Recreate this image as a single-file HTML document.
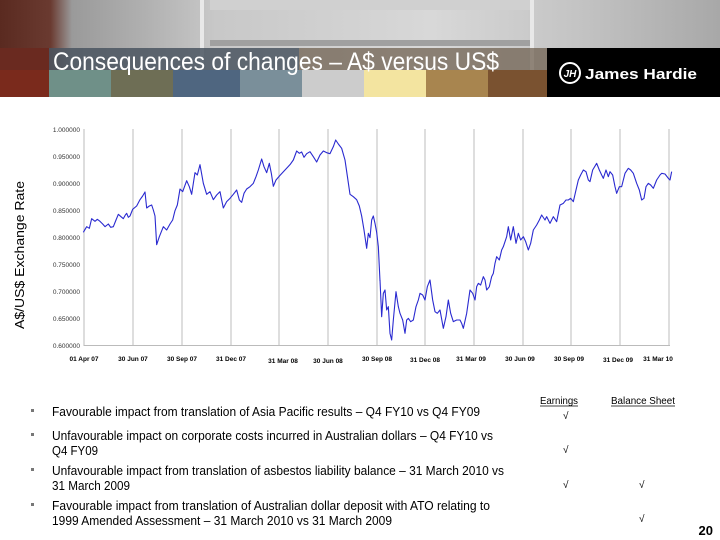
<!DOCTYPE html>
<html><head><meta charset="utf-8"><style>
html,body{margin:0;padding:0;background:#fff;}
body{width:720px;height:540px;position:relative;overflow:hidden;font-family:"Liberation Sans",Arial,sans-serif;}
</style></head><body>
<svg width="720" height="540" viewBox="0 0 720 540" xmlns="http://www.w3.org/2000/svg" style="position:absolute;left:0;top:0">
<defs>
<linearGradient id="ph" x1="0" x2="1" y1="0" y2="0">
<stop offset="0" stop-color="#5a2a20"/><stop offset="0.07" stop-color="#6a3a30"/>
<stop offset="0.1" stop-color="#9a9a9a"/><stop offset="0.2" stop-color="#b0b0b0"/>
<stop offset="0.3" stop-color="#c8c8c8"/><stop offset="0.6" stop-color="#d8d8d8"/>
<stop offset="0.8" stop-color="#c4c4c4"/><stop offset="1" stop-color="#a8a8a8"/>
</linearGradient>
</defs>
<rect x="0" y="0" width="720" height="70" fill="url(#ph)"/>
<rect x="210" y="0" width="320" height="10" fill="#d0d0d0"/>
<rect x="210" y="40" width="320" height="6" fill="#a0a0a0"/>
<rect x="200" y="0" width="4" height="70" fill="#e8e8e8"/>
<rect x="530" y="0" width="4" height="70" fill="#e8e8e8"/>
<rect x="0" y="70" width="49" height="27" fill="#7a2a1c"/>
<rect x="49" y="70" width="62" height="27" fill="#6f9088"/>
<rect x="111" y="70" width="62" height="27" fill="#6e6e55"/>
<rect x="173" y="70" width="67" height="27" fill="#4f6680"/>
<rect x="240" y="70" width="62" height="27" fill="#7a8f9a"/>
<rect x="302" y="70" width="62" height="27" fill="#cccccc"/>
<rect x="364" y="70" width="62" height="27" fill="#f3e4a0"/>
<rect x="426" y="70" width="62" height="27" fill="#a8854f"/>
<rect x="488" y="70" width="59" height="27" fill="#7a5230"/>
<rect x="0" y="48" width="49" height="22" fill="#6a2a20"/>
<rect x="49" y="48" width="250" height="22" fill="#4a5560" opacity="0.85"/>
<rect x="299" y="48" width="248" height="22" fill="#6a5a48" opacity="0.7"/>
<rect x="547" y="48" width="173" height="49" fill="#000"/>
<text x="53" y="70" font-size="25" fill="#fff" textLength="446" lengthAdjust="spacingAndGlyphs">Consequences of changes – A$ versus US$</text>
<circle cx="570" cy="73" r="10" fill="none" stroke="#fff" stroke-width="2"/>
<text x="570" y="77" font-size="10" font-weight="bold" fill="#fff" text-anchor="middle" font-style="italic">JH</text>
<text x="585" y="79" font-size="15" font-weight="bold" fill="#fff" textLength="112" lengthAdjust="spacingAndGlyphs">James Hardie</text>

<text transform="translate(24,255) rotate(-90)" font-size="13" text-anchor="middle" fill="#000" textLength="148" lengthAdjust="spacingAndGlyphs">A$/US$ Exchange Rate</text>

<g stroke="#c8c8c8" stroke-width="1.2">
<line x1="133" y1="129" x2="133" y2="346"/><line x1="182" y1="129" x2="182" y2="346"/>
<line x1="231" y1="129" x2="231" y2="346"/><line x1="279" y1="129" x2="279" y2="346"/>
<line x1="328" y1="129" x2="328" y2="346"/><line x1="377" y1="129" x2="377" y2="346"/>
<line x1="425" y1="129" x2="425" y2="346"/><line x1="474" y1="129" x2="474" y2="346"/>
<line x1="523" y1="129" x2="523" y2="346"/><line x1="571" y1="129" x2="571" y2="346"/>
<line x1="620" y1="129" x2="620" y2="346"/><line x1="669" y1="129" x2="669" y2="346"/>
</g>
<g stroke="#bbb" stroke-width="1"><line x1="84" y1="129" x2="84" y2="346"/><line x1="84" y1="345.5" x2="670" y2="345.5"/></g>
<g font-size="6.5" fill="#333" text-anchor="end">
<text x="80" y="132">1.000000</text><text x="80" y="159">0.950000</text>
<text x="80" y="186">0.900000</text><text x="80" y="213">0.850000</text>
<text x="80" y="240">0.800000</text><text x="80" y="267">0.750000</text>
<text x="80" y="294">0.700000</text><text x="80" y="321">0.650000</text>
<text x="80" y="348">0.600000</text>
</g>
<g font-size="6.5" font-weight="bold" fill="#000" text-anchor="middle">
<text x="84" y="361">01 Apr 07</text><text x="133" y="361">30 Jun 07</text>
<text x="182" y="361">30 Sep 07</text><text x="231" y="361">31 Dec 07</text>
<text x="283" y="363">31 Mar 08</text><text x="328" y="363">30 Jun 08</text>
<text x="377" y="361">30 Sep 08</text><text x="425" y="362">31 Dec 08</text>
<text x="471" y="361">31 Mar 09</text><text x="520" y="361">30 Jun 09</text>
<text x="569" y="361">30 Sep 09</text><text x="618" y="362">31 Dec 09</text>
<text x="658" y="361">31 Mar 10</text>
</g>
<g transform="translate(40,120) scale(0.33333)">
<polyline fill="none" stroke="#2a2ad0" stroke-width="3.3" stroke-linejoin="round" points="130,337 140,320 148,325 155,296 165,304 172,298 180,304 188,312 195,320 205,312 212,322 220,320 228,300 235,283 243,290 250,296 256,285 260,280 265,292 270,288 278,268 290,258 300,239 308,228 315,216 320,264 328,258 335,255 340,270 345,288 350,374 358,350 370,320 380,330 390,312 398,300 405,272 412,255 420,207 428,215 440,182 448,200 455,223 460,190 465,158 472,165 480,134 490,190 500,223 510,215 520,239 530,225 540,215 545,240 550,264 560,245 570,235 580,223 590,210 598,240 605,247 612,220 620,207 630,200 640,190 648,170 655,150 665,117 672,140 680,158 688,130 694,160 700,199 708,180 720,166 735,150 750,134 760,120 770,93 778,100 785,96 792,112 800,101 810,95 820,110 830,126 840,105 850,93 860,98 870,101 880,80 887,60 895,72 905,85 915,120 930,223 940,230 950,239 958,258 965,288 972,330 980,385 985,340 990,353 995,300 1000,288 1005,310 1010,337 1015,380 1020,483"/>
</g>
<g transform="translate(360,120) scale(0.33333)">
<polyline fill="none" stroke="#2a2ad0" stroke-width="3.3" stroke-linejoin="round" points="60,480 65,590 70,520 75,510 80,570 85,560 90,640 95,660 100,600 108,515 115,560 120,580 128,600 135,640 140,600 145,595 152,605 160,600 168,560 175,540 180,520 188,525 195,540 202,500 210,480 218,540 225,575 232,580 240,570 250,625 258,590 265,540 272,580 280,605 290,600 300,600 305,610 310,625 320,580 330,510 338,520 345,540 350,500 355,490 362,495 370,470 375,480 380,510 388,500 395,470 400,460 405,430 410,410 418,420 425,390 430,380 440,350 445,320 452,360 460,320 468,370 475,340 482,360 490,350 497,365 505,390 512,370 520,330 530,315 538,300 545,285 555,300 560,290 570,310 580,290 590,305 600,255 610,250 618,240 625,240 632,235 640,245 648,210 655,180 662,165 670,150 678,155 685,180 690,185 698,150 710,130 718,150 725,165 730,175 738,150 745,170 750,155 758,165 765,200 770,220 778,200 785,200 795,160 805,145 812,150 820,160 830,190 838,210 845,240 852,235 858,200 865,190 872,195 880,205 890,180 900,165 905,160 915,162 925,175 930,180 935,155"/>
</g>

<g font-size="10" fill="#000">
<text x="540" y="404" textLength="38" lengthAdjust="spacingAndGlyphs">Earnings</text>
<line x1="540" y1="406" x2="578" y2="406" stroke="#000" stroke-width="0.7"/>
<text x="611" y="404" textLength="64" lengthAdjust="spacingAndGlyphs">Balance Sheet</text>
<line x1="611" y1="406" x2="675" y2="406" stroke="#000" stroke-width="0.7"/>
</g>
<g font-size="12.5" fill="#000">
<rect x="31" y="409" width="3" height="3" fill="#777"/>
<text x="52" y="416" textLength="428" lengthAdjust="spacingAndGlyphs">Favourable impact from translation of Asia Pacific results – Q4 FY10 vs Q4 FY09</text>
<rect x="31" y="433" width="3" height="3" fill="#777"/>
<text x="52" y="440" textLength="441" lengthAdjust="spacingAndGlyphs">Unfavourable impact on corporate costs incurred in Australian dollars – Q4 FY10 vs</text>
<text x="52" y="455" textLength="46" lengthAdjust="spacingAndGlyphs">Q4 FY09</text>
<rect x="31" y="468" width="3" height="3" fill="#777"/>
<text x="52" y="475" textLength="452" lengthAdjust="spacingAndGlyphs">Unfavourable impact from translation of asbestos liability balance – 31 March 2010 vs</text>
<text x="52" y="490" textLength="78" lengthAdjust="spacingAndGlyphs">31 March 2009</text>
<rect x="31" y="503" width="3" height="3" fill="#777"/>
<text x="52" y="510" textLength="438" lengthAdjust="spacingAndGlyphs">Favourable impact from translation of Australian dollar deposit with ATO relating to</text>
<text x="52" y="525" textLength="340" lengthAdjust="spacingAndGlyphs">1999 Amended Assessment – 31 March 2010 vs 31 March 2009</text>
</g>
<g font-size="10" fill="#000">
<text x="563" y="419">√</text>
<text x="563" y="453">√</text>
<text x="563" y="488">√</text>
<text x="639" y="488">√</text>
<text x="639" y="522">√</text>
</g>
<text x="713" y="535" font-size="13" font-weight="bold" text-anchor="end">20</text>
</svg>
</body></html>
